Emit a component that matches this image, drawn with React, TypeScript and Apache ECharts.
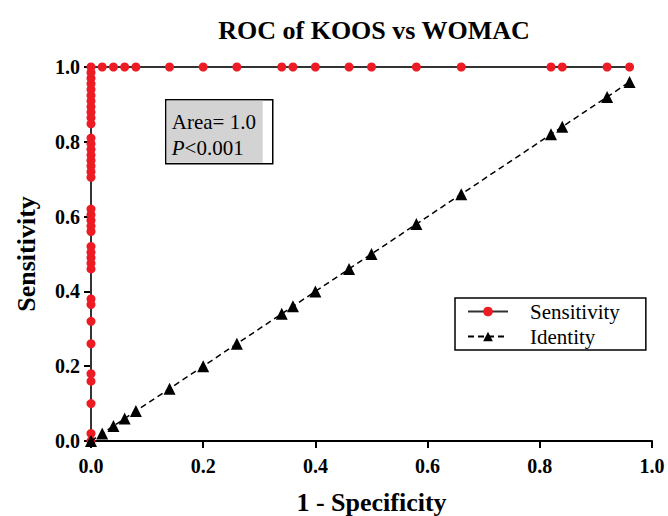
import React, { useEffect, useRef } from "react";
import * as echarts from "echarts";

const title = "ROC of KOOS vs WOMAC";
const xAxisName = "1 - Specificity";
const yAxisName = "Sensitivity";

// Sensitivity curve: first up the y axis (x = 0), then along y = 1
const sensYAtZero = [
  0, 0.02, 0.10, 0.16, 0.18, 0.26, 0.32, 0.365, 0.38,
  0.46, 0.475, 0.49, 0.505, 0.52,
  0.56, 0.575, 0.59, 0.605, 0.62,
  0.705, 0.72, 0.735, 0.75, 0.765, 0.78, 0.795, 0.81,
  0.848, 0.864, 0.879, 0.894, 0.909, 0.924, 0.94, 0.955, 0.97, 0.985, 1.0,
];
const sensXAtOne = [
  0.02, 0.04, 0.06, 0.08, 0.14, 0.2, 0.26, 0.34, 0.36, 0.4,
  0.46, 0.5, 0.58, 0.66, 0.82, 0.84, 0.92, 0.96,
];
// Identity line points
const identityX = [
  0, 0.02, 0.04, 0.06, 0.08, 0.14, 0.2, 0.26, 0.34, 0.36, 0.4,
  0.46, 0.5, 0.58, 0.66, 0.82, 0.84, 0.92, 0.96,
];

const areaText = "Area= 1.0";
const pText = "<0.001";

const FONT = "Liberation Serif";

export default function App() {
  const ref = useRef<HTMLDivElement>(null);
  useEffect(() => {
    if (!ref.current) return;
    const chart = echarts.init(ref.current, undefined, { renderer: "svg" });
    const sensData: number[][] = [
      ...sensYAtZero.map((y) => [0, y]),
      ...sensXAtOne.map((x) => [x, 1]),
    ];
    const identData = identityX.map((x) => [x, x]);
    const fmt = (v: number) => v.toFixed(1);
    chart.setOption({
      animation: false,
      backgroundColor: "#ffffff",
      title: {
        text: title,
        left: 369,
        textAlign: "center",
        top: 12,
        textStyle: { fontFamily: FONT, fontWeight: "bold", fontSize: 26, color: "#000" },
      },
      grid: { left: 91, right: 16, top: 67, bottom: 75, outerBoundsMode: "none", containLabel: false },
      xAxis: {
        type: "value",
        min: 0,
        max: 1,
        interval: 0.2,
        name: xAxisName,
        nameLocation: "middle",
        nameGap: 48,
        nameTextStyle: { fontFamily: FONT, fontWeight: "bold", fontSize: 26, color: "#000" },
        axisLine: { show: true, lineStyle: { color: "#000", width: 2 } },
        axisTick: { show: true, length: 7, lineStyle: { color: "#000", width: 2 } },
        axisLabel: {
          formatter: fmt,
          margin: 15,
          fontFamily: FONT,
          fontWeight: "bold",
          fontSize: 20,
          color: "#000",
        },
        splitLine: { show: false },
      },
      yAxis: {
        type: "value",
        min: 0,
        max: 1,
        interval: 0.2,
        name: yAxisName,
        nameLocation: "middle",
        nameGap: 52,
        nameTextStyle: { fontFamily: FONT, fontWeight: "bold", fontSize: 26, color: "#000" },
        axisLine: { show: true, lineStyle: { color: "#000", width: 2 } },
        axisTick: { show: true, length: 7, lineStyle: { color: "#000", width: 2 } },
        axisLabel: {
          formatter: fmt,
          margin: 11,
          fontFamily: FONT,
          fontWeight: "bold",
          fontSize: 20,
          color: "#000",
        },
        splitLine: { show: false },
      },
      legend: {
        left: 455,
        top: 298,
        orient: "vertical",
        itemWidth: 40,
        itemHeight: 12,
        itemGap: 4,
        padding: [3, 26, 3, 12],
        borderColor: "#000",
        borderWidth: 1.5,
        backgroundColor: "#fff",
        data: ["Sensitivity", "Identity"],
        textStyle: { fontFamily: FONT, fontSize: 21, color: "#000", padding: [0, 0, 0, 17] },
      },
      series: [
        {
          name: "Sensitivity",
          type: "line",
          data: sensData,
          symbol: "circle",
          symbolSize: 9,
          itemStyle: { color: "#ed1c24" },
          lineStyle: { color: "#333", width: 2 },
          z: 2,
        },
        {
          name: "Identity",
          type: "line",
          data: identData,
          symbol: "triangle",
          symbolSize: 12,
          itemStyle: { color: "#000" },
          lineStyle: { color: "#000", width: 1.5, type: [6, 4] },
          z: 3,
        },
      ],
      graphic: [
        {
          type: "group",
          left: 165,
          top: 99,
          children: [
            { type: "rect", shape: { x: 0, y: 0, width: 107, height: 64 }, style: { fill: "#ffffff", stroke: "#000", lineWidth: 1.5 } },
            { type: "rect", shape: { x: 1, y: 1, width: 96, height: 62 }, style: { fill: "#d3d3d3" } },
            { type: "text", x: 6, y: 22, style: { text: areaText, fontFamily: FONT, fontSize: 21, fill: "#000", verticalAlign: "middle" } },
            {
              type: "text",
              x: 6,
              y: 48,
              style: {
                text: "{i|P}" + pText,
                fontFamily: FONT,
                fontSize: 21,
                fill: "#000",
                verticalAlign: "middle",
                rich: { i: { fontStyle: "italic", fontFamily: FONT, fontSize: 21, fill: "#000" } },
              },
            },
          ],
        },
      ],
    });
    return () => chart.dispose();
  }, []);
  return (
    <div
      ref={ref}
      style={{ position: "fixed", left: 0, top: 0, width: 668, height: 516 }}
    />
  );
}
